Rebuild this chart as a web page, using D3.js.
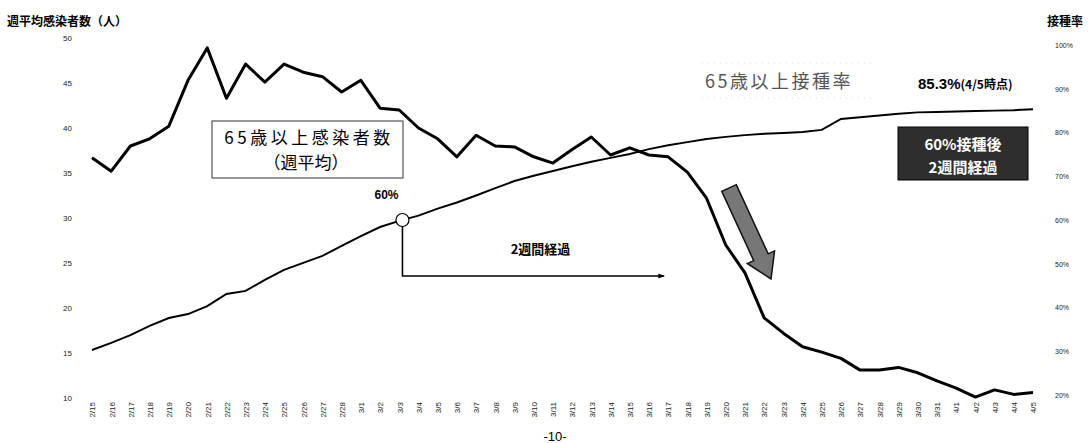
<!DOCTYPE html>
<html><head><meta charset="utf-8">
<script src="https://cdn.jsdelivr.net/npm/d3@7"></script>
<style>
body{margin:0;background:#fff;}
svg{display:block;font-family:"Noto Sans CJK JP","Noto Sans",sans-serif;}
</style></head>
<body><svg id="c" width="1088" height="443"></svg>
<script>
const dates = ["2/15","2/16","2/17","2/18","2/19","2/20","2/21","2/22","2/23","2/24","2/25","2/26","2/27","2/28",
"3/1","3/2","3/3","3/4","3/5","3/6","3/7","3/8","3/9","3/10","3/11","3/12","3/13","3/14","3/15","3/16","3/17","3/18","3/19","3/20",
"3/21","3/22","3/23","3/24","3/25","3/26","3/27","3/28","3/29","3/30","3/31","4/1","4/2","4/3","4/4","4/5"];
const infected = [36.7,35.2,38.0,38.8,40.2,45.3,48.9,43.3,47.1,45.1,47.1,46.2,45.7,44.0,45.3,42.2,42.0,40.0,38.8,36.8,
39.2,38.0,37.9,36.8,36.1,37.6,39.0,37.0,37.8,37.0,36.8,35.1,32.2,27.0,23.9,18.9,17.2,15.7,15.1,14.4,13.1,13.1,13.4,12.8,11.9,11.1,10.1,10.9,10.4,10.6];
const vaccRate = [30.3,31.9,33.7,35.8,37.6,38.5,40.3,43.1,43.8,46.3,48.6,50.2,51.8,54.1,56.3,58.4,59.8,61.0,62.6,64.0,
65.6,67.3,68.9,70.1,71.2,72.3,73.3,74.2,75.1,76.2,77.1,77.8,78.5,79.0,79.4,79.7,79.9,80.1,80.6,83.1,83.5,83.9,84.3,84.6,84.7,84.8,84.9,85.0,85.1,85.3];
const leftTicks = [10,15,20,25,30,35,40,45,50];
const rightTicks = [20,30,40,50,60,70,80,90,100];
const milestone = 60;
const asOf = "4/5";

const svg = d3.select("#c");
const x = d3.scalePoint().domain(dates).range([92, 1033]);
const yL = d3.scaleLinear().domain([10,50]).range([398,38]);
const yR = d3.scaleLinear().domain([20,100]).range([395,45]);

// axes
const gl = svg.append("g").attr("transform","translate(76,0)")
  .call(d3.axisLeft(yL).tickValues(leftTicks).tickSize(0).tickPadding(4));
gl.select(".domain").remove();
gl.selectAll("text").attr("font-size",8).attr("fill","#222").attr("font-family","Liberation Sans, sans-serif");

const gr = svg.append("g").attr("transform","translate(1052,0)")
  .call(d3.axisRight(yR).tickValues(rightTicks).tickSize(0).tickPadding(3).tickFormat(d=>d+"%"));
gr.select(".domain").remove();
gr.selectAll("text").attr("font-size",7).attr("fill","#222").attr("font-family","Liberation Sans, sans-serif");

const gx = svg.append("g").attr("transform","translate(0,400)")
  .call(d3.axisBottom(x).tickSize(0).tickPadding(0));
gx.select(".domain").remove();
gx.selectAll("text").attr("font-size",8).attr("fill","#222").attr("font-family","Liberation Sans, sans-serif")
  .attr("text-anchor","end").attr("dy","0.35em").attr("transform","translate(0,2) rotate(-90)");

// titles
svg.append("text").attr("x",7).attr("y",26).attr("font-size",12).attr("font-weight","bold").text("週平均感染者数（人）");
svg.append("text").attr("x",1047).attr("y",26).attr("font-size",12).attr("font-weight","bold").text("接種率");

// lines
const lineL = d3.line().x((d,i)=>x(dates[i])).y(d=>yL(d));
const lineR = d3.line().x((d,i)=>x(dates[i])).y(d=>yR(d));
svg.append("path").attr("d",lineR(vaccRate)).attr("fill","none").attr("stroke","#000").attr("stroke-width",2);
svg.append("path").attr("d",lineL(infected)).attr("fill","none").attr("stroke","#000").attr("stroke-width",3).attr("stroke-linejoin","round");

// milestone circle (interpolated where vaccRate crosses 60%)
let mi = vaccRate.findIndex(v=>v>=milestone);
const t = (milestone - vaccRate[mi-1])/(vaccRate[mi]-vaccRate[mi-1]);
const mx = x(dates[mi-1]) + t*(x(dates[mi])-x(dates[mi-1]));
const my = yR(milestone);
const ax2 = x(dates[mi-1+14]) - 4;
svg.append("defs").append("marker").attr("id","ah").attr("viewBox","0 0 10 10").attr("refX",9).attr("refY",5)
  .attr("markerWidth",6).attr("markerHeight",4).attr("orient","auto")
  .append("path").attr("d","M0,1 L10,5 L0,9 Z").attr("fill","#000");
svg.append("path").attr("d",`M${mx},${my+6} V276 H${ax2}`).attr("fill","none").attr("stroke","#000").attr("stroke-width",1.6).attr("marker-end","url(#ah)");
svg.append("circle").attr("cx",mx).attr("cy",my).attr("r",6.5).attr("fill","#fff").attr("stroke","#000").attr("stroke-width",1.2);
svg.append("text").attr("x",mx-28).attr("y",my-21).attr("font-size",12).attr("font-weight","bold").attr("font-family","Liberation Sans, sans-serif").text(milestone+"%");
svg.append("text").attr("x",mx+138).attr("y",254).attr("text-anchor","middle").attr("font-size",13).attr("font-weight","bold").text("2週間経過");

// infected label box
svg.append("rect").attr("x",212).attr("y",121).attr("width",191).attr("height",57).attr("fill","#fff").attr("stroke","#333").attr("stroke-width",1);
svg.append("text").attr("x",309).attr("y",144).attr("text-anchor","middle").attr("font-size",17).attr("letter-spacing",3.5).text("65歳以上感染者数");
svg.append("text").attr("x",306).attr("y",169).attr("text-anchor","middle").attr("font-size",17).text("（週平均）");

// vacc label
svg.append("line").attr("x1",702).attr("x2",874).attr("y1",63).attr("y2",63).attr("stroke","#ccc").attr("stroke-width",0.8).attr("stroke-dasharray","1,5");
svg.append("line").attr("x1",702).attr("x2",874).attr("y1",98).attr("y2",98).attr("stroke","#ccc").attr("stroke-width",0.8).attr("stroke-dasharray","1,5");
svg.append("text").attr("x",705).attr("y",88).attr("font-size",18).attr("letter-spacing",2.5).attr("fill","#555").text("65歳以上接種率");
const lbl = svg.append("text").attr("x",918).attr("y",89).attr("font-weight","bold").attr("font-family","Liberation Sans, sans-serif");
lbl.append("tspan").attr("font-size",15).text(vaccRate[vaccRate.length-1]+"%");
lbl.append("tspan").attr("font-size",12).attr("font-family","Noto Sans CJK JP").text("("+asOf+"時点)");

// dark box
svg.append("rect").attr("x",898).attr("y",127).attr("width",130).attr("height",53).attr("fill","#2e2e2e").attr("stroke","#000");
svg.append("text").attr("x",963).attr("y",150).attr("text-anchor","middle").attr("font-size",15).attr("font-weight","bold").attr("fill","#fff").text("60%接種後");
svg.append("text").attr("x",963).attr("y",173).attr("text-anchor","middle").attr("font-size",15).attr("font-weight","bold").attr("fill","#fff").text("2週間経過");

// big gray arrow
(function(){
  const x0=729,y0=188,x1=771,y1=279;
  const ang=Math.atan2(y1-y0,x1-x0), L=Math.hypot(x1-x0,y1-y0);
  const sw=8, hw=15, hl=24;
  const g=svg.append("g").attr("transform",`translate(${x0},${y0}) rotate(${ang*180/Math.PI})`);
  g.append("path").attr("d",`M0,${-sw} L${L-hl},${-sw} L${L-hl},${-hw} L${L},0 L${L-hl},${hw} L${L-hl},${sw} L0,${sw} Z`)
   .attr("fill","#777").attr("stroke","#111").attr("stroke-width",1.5);
})();

// page number
svg.append("text").attr("x",555).attr("y",441).attr("text-anchor","middle").attr("font-size",13).attr("font-family","Liberation Sans, sans-serif").text("-10-");
</script></body></html>
